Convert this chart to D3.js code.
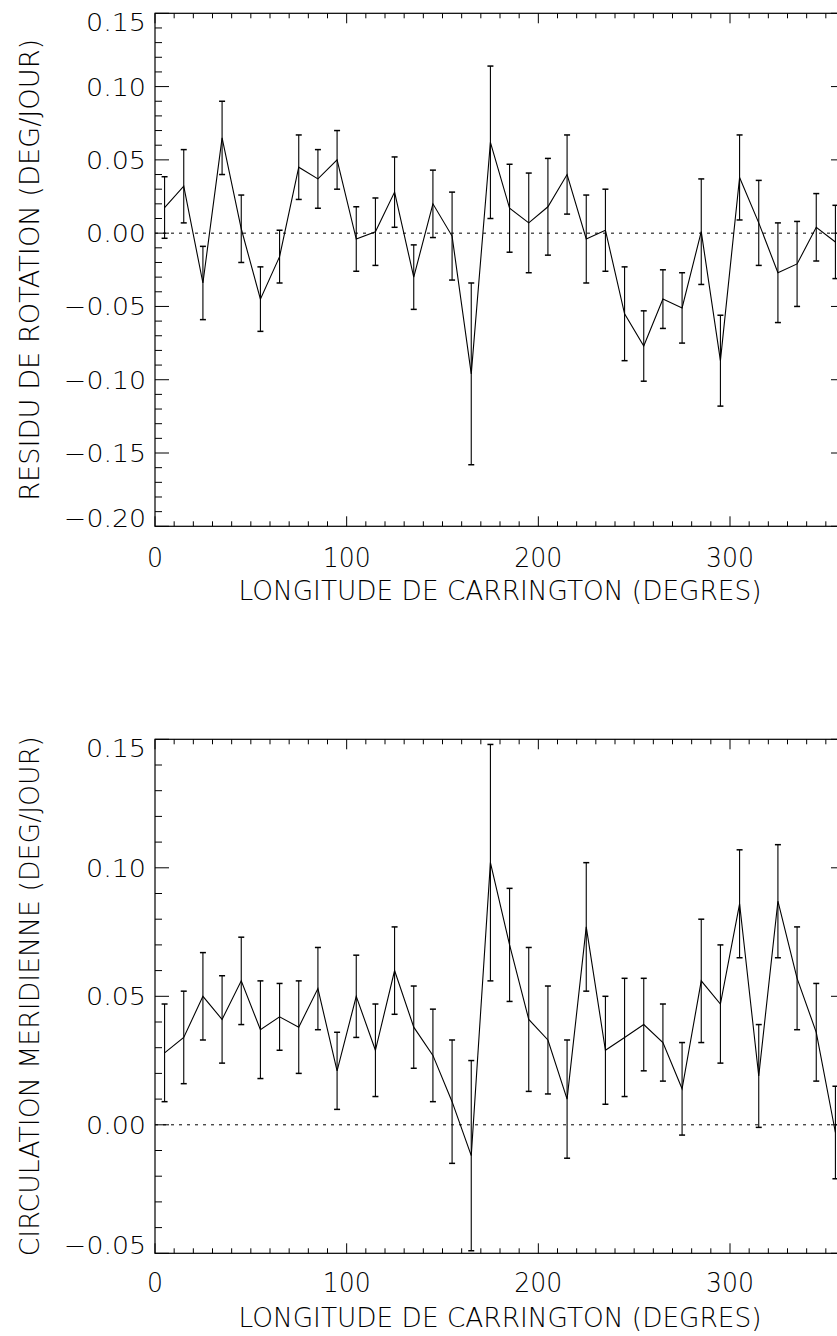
<!DOCTYPE html>
<html>
<head>
<meta charset="utf-8">
<script src="https://cdn.jsdelivr.net/npm/d3@7"></script>
<style>
  html, body { margin: 0; padding: 0; background: #fff; overflow: hidden; }
  svg { display: block; }
  text { font-family: "DejaVu Sans", "Liberation Sans", sans-serif; font-weight: 200; fill: #000; }
</style>
</head>
<body>
<svg id="chart" width="837" height="1336"></svg>
<script>
// Carrington longitude bins (degrees), centre of each 10-degree bin
const longitudes = [5, 15, 25, 35, 45, 55, 65, 75, 85, 95, 105, 115, 125, 135, 145, 155, 165, 175,
                    185, 195, 205, 215, 225, 235, 245, 255, 265, 275, 285, 295, 305, 315, 325, 335, 345, 355];

// Rotation residual (deg/day) and its uncertainty
const rotationResidual = [0.0175, 0.032, -0.034, 0.065, 0.003, -0.045, -0.016, 0.045, 0.037, 0.050,
                          -0.004, 0.001, 0.028, -0.030, 0.020, -0.002, -0.096, 0.062,
                          0.017, 0.007, 0.018, 0.040, -0.004, 0.002, -0.055, -0.077, -0.045, -0.051,
                          0.001, -0.087, 0.038, 0.007, -0.027, -0.021, 0.004, -0.006];
const rotationError = [0.021, 0.025, 0.025, 0.025, 0.023, 0.022, 0.018, 0.022, 0.020, 0.020,
                       0.022, 0.023, 0.024, 0.022, 0.023, 0.030, 0.062, 0.052,
                       0.030, 0.034, 0.033, 0.027, 0.030, 0.028, 0.032, 0.024, 0.020, 0.024,
                       0.036, 0.031, 0.029, 0.029, 0.034, 0.029, 0.023, 0.025];

// Meridional circulation (deg/day) and its uncertainty
const meridional = [0.028, 0.034, 0.050, 0.041, 0.056, 0.037, 0.042, 0.038, 0.053, 0.021,
                    0.050, 0.029, 0.060, 0.038, 0.027, 0.009, -0.012, 0.102,
                    0.070, 0.041, 0.033, 0.010, 0.077, 0.029, 0.034, 0.039, 0.032, 0.014,
                    0.056, 0.047, 0.086, 0.019, 0.087, 0.057, 0.036, -0.003];
const meridionalError = [0.019, 0.018, 0.017, 0.017, 0.017, 0.019, 0.013, 0.018, 0.016, 0.015,
                         0.016, 0.018, 0.017, 0.016, 0.018, 0.024, 0.037, 0.046,
                         0.022, 0.028, 0.021, 0.023, 0.025, 0.021, 0.023, 0.018, 0.015, 0.018,
                         0.024, 0.023, 0.021, 0.020, 0.022, 0.020, 0.019, 0.018];

// Axis tick labels
const xTickValues = [0, 100, 200, 300];
const topYTicks = [-0.20, -0.15, -0.10, -0.05, 0.00, 0.05, 0.10, 0.15];
const bottomYTicks = [-0.05, 0.00, 0.05, 0.10, 0.15];

const xTitle = "LONGITUDE DE CARRINGTON (DEGRES)";

const svg = d3.select("#chart");

function fmt(v) {
  const s = Math.abs(v).toFixed(2);
  return (v < -1e-9 ? "\u2212" : "") + s;
}

function drawPanel(cfg) {
  const x = d3.scaleLinear().domain([0, 360]).range([155, 845]);
  const y = d3.scaleLinear().domain(cfg.yDomain).range([cfg.bottom, cfg.top]);
  const g = svg.append("g");
  const [x0, x1] = x.range();
  const yb = cfg.bottom, yt = cfg.top;

  // x ticks: major every 100, minor every 10 (bottom and top)
  const xMinor = d3.range(0, 361, 10);
  xMinor.forEach(v => {
    const len = v % 100 === 0 ? 10 : 5;
    g.append("line").attr("x1", x(v)).attr("x2", x(v)).attr("y1", yb).attr("y2", yb - len)
      .attr("stroke", "#000").attr("stroke-width", 1);
    g.append("line").attr("x1", x(v)).attr("x2", x(v)).attr("y1", yt).attr("y2", yt + len)
      .attr("stroke", "#000").attr("stroke-width", 1);
  });

  // y ticks: major every 0.05, minor every 0.01 (left and right)
  const [d0, d1] = cfg.yDomain;
  const nMinor = Math.round((d1 - d0) / 0.01);
  for (let i = 0; i <= nMinor; i++) {
    const v = d0 + i * 0.01;
    const len = i % 5 === 0 ? 14 : 7;
    g.append("line").attr("x1", x0).attr("x2", x0 + len).attr("y1", y(v)).attr("y2", y(v))
      .attr("stroke", "#000").attr("stroke-width", 1);
    g.append("line").attr("x1", x1).attr("x2", x1 - len).attr("y1", y(v)).attr("y2", y(v))
      .attr("stroke", "#000").attr("stroke-width", 1);
  }

  // frame
  g.append("rect").attr("x", x0).attr("y", yt).attr("width", x1 - x0).attr("height", yb - yt)
    .attr("fill", "none").attr("stroke", "#000").attr("stroke-width", 1.2);

  // zero reference line
  g.append("line").attr("x1", x0).attr("x2", x1).attr("y1", y(0)).attr("y2", y(0))
    .attr("stroke", "#000").attr("stroke-width", 1).attr("stroke-dasharray", "3,5");

  // tick labels (the end labels are nudged inside the frame's height)
  g.selectAll("text.xt").data(xTickValues).enter().append("text")
    .attr("x", d => x(d)).attr("y", cfg.xLabelY).attr("text-anchor", "middle")
    .attr("dominant-baseline", "central").attr("font-size", 26)
    .attr("textLength", d => String(d).length * 16).attr("lengthAdjust", "spacingAndGlyphs")
    .text(d => d);
  const nudge = v => Math.abs(v - d1) < 1e-9 ? 9 : (Math.abs(v - d0) < 1e-9 ? -8 : 0.5);
  g.selectAll("text.yt").data(cfg.yTicks).enter().append("text")
    .attr("x", 146).attr("y", d => y(d) + nudge(d)).attr("text-anchor", "end")
    .attr("dominant-baseline", "central").attr("font-size", 25)
    .attr("textLength", d => d < -1e-9 ? 82 : 60).attr("lengthAdjust", "spacingAndGlyphs")
    .text(fmt);

  // axis titles
  g.append("text").attr("x", 500).attr("y", cfg.xTitleY).attr("text-anchor", "middle")
    .attr("dominant-baseline", "central").attr("font-size", 26)
    .attr("textLength", 523).attr("lengthAdjust", "spacingAndGlyphs").text(xTitle);
  g.append("text").attr("transform", `translate(30,${(yt + yb) / 2}) rotate(-90)`)
    .attr("text-anchor", "middle").attr("dominant-baseline", "central").attr("font-size", 26)
    .attr("textLength", cfg.yTitleLen).attr("lengthAdjust", "spacingAndGlyphs").text(cfg.yTitle);

  const pts = longitudes.map((lon, i) => ({ lon, v: cfg.values[i], e: cfg.errors[i] }));

  // error bars
  const eb = g.append("g").attr("stroke", "#000").attr("stroke-width", 1.1);
  pts.forEach(p => {
    const cx = x(p.lon), ya = y(p.v + p.e), yb2 = y(p.v - p.e);
    eb.append("line").attr("x1", cx).attr("x2", cx).attr("y1", ya).attr("y2", yb2);
    eb.append("line").attr("x1", cx - 3).attr("x2", cx + 3).attr("y1", ya).attr("y2", ya).attr("stroke-width", 1.5);
    eb.append("line").attr("x1", cx - 3).attr("x2", cx + 3).attr("y1", yb2).attr("y2", yb2).attr("stroke-width", 1.5);
  });

  // data line
  g.append("path").datum(pts)
    .attr("d", d3.line().x(d => x(d.lon)).y(d => y(d.v)))
    .attr("fill", "none").attr("stroke", "#000").attr("stroke-width", 1.1);
}

drawPanel({
  top: 13.3, bottom: 526.3, yDomain: [-0.20, 0.15], yTicks: topYTicks,
  values: rotationResidual, errors: rotationError,
  xLabelY: 558, xTitleY: 591,
  yTitle: "RESIDU DE ROTATION (DEG/JOUR)", yTitleLen: 462
});

drawPanel({
  top: 739.3, bottom: 1253.3, yDomain: [-0.05, 0.15], yTicks: bottomYTicks,
  values: meridional, errors: meridionalError,
  xLabelY: 1283, xTitleY: 1318,
  yTitle: "CIRCULATION MERIDIENNE (DEG/JOUR)", yTitleLen: 520
});
</script>
</body>
</html>
